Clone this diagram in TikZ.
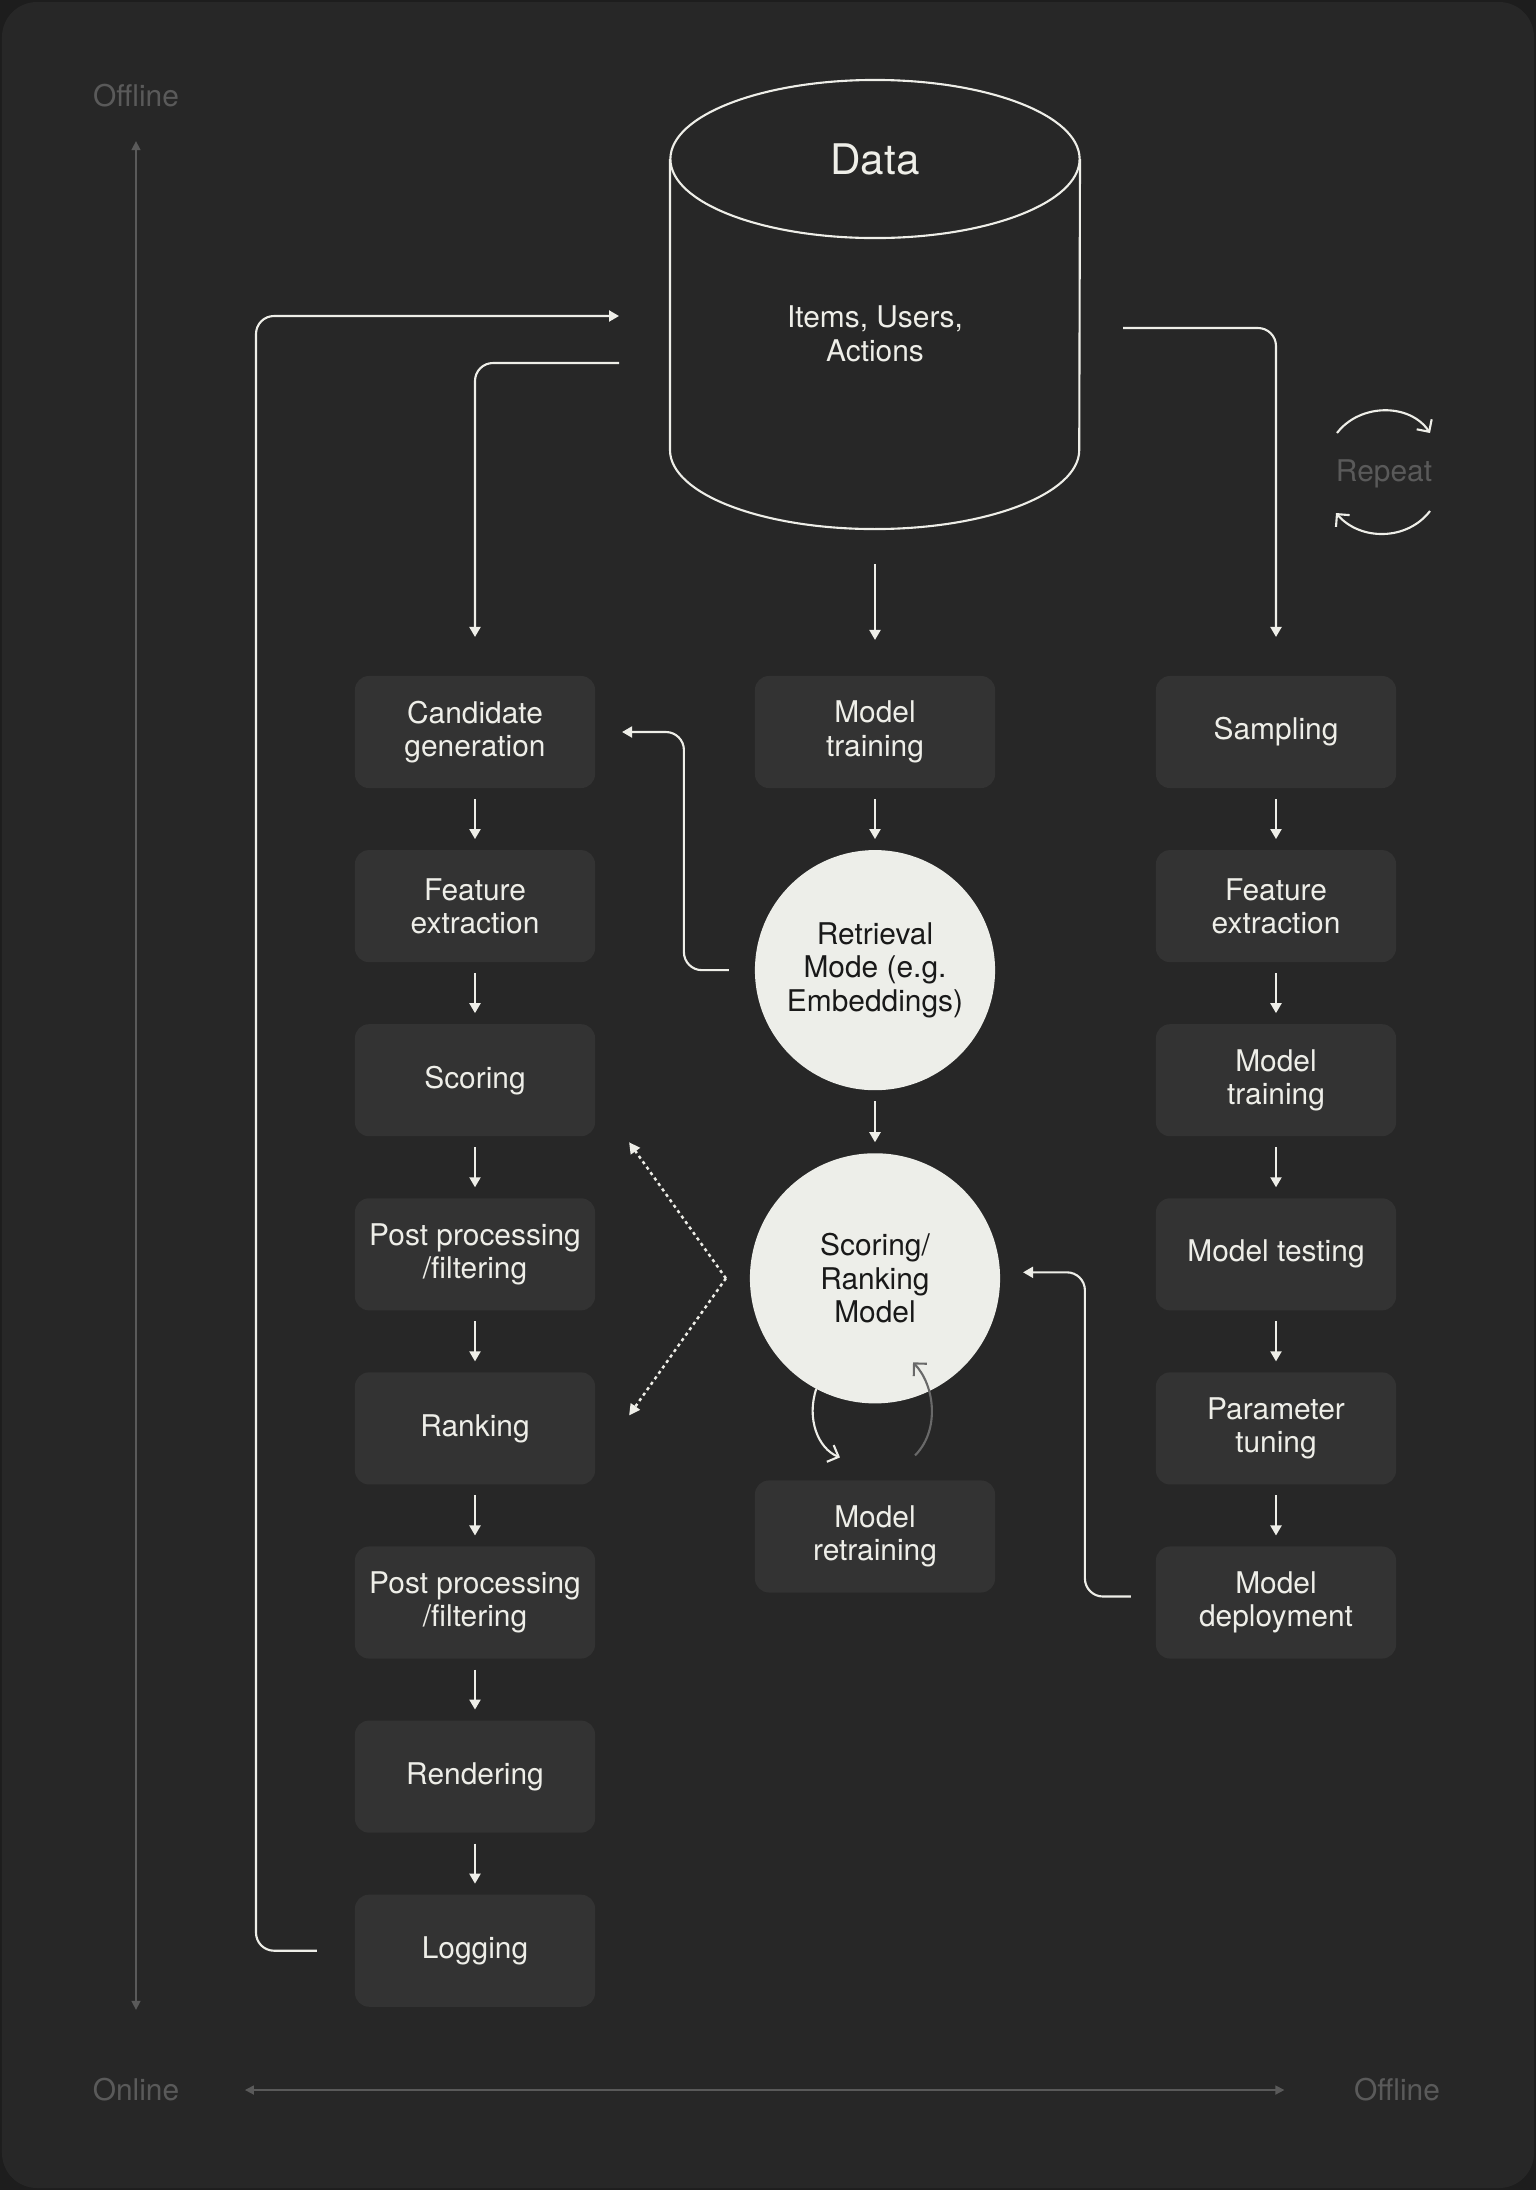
\documentclass[tikz,border=0pt]{standalone}
\usepackage{fontspec}
\setmainfont{TeX Gyre Heros}
\usetikzlibrary{arrows.meta, positioning}
\definecolor{marco}{RGB}{29,29,29}
\definecolor{fondo}{RGB}{39,39,39}
\definecolor{cajagris}{RGB}{51,51,51}
\definecolor{tinta}{RGB}{238,238,232}
\definecolor{claro}{RGB}{237,238,233}
\definecolor{apagado}{RGB}{90,90,90}
\definecolor{medio}{RGB}{105,105,105}
\tikzset{
  caja/.style={rectangle, rounded corners=1.4mm, fill=cajagris, text=tinta,
    minimum width=2.4cm, minimum height=1.12cm, align=center, inner sep=1pt,
    outer sep=0pt, font=\fontsize{8.5}{9.5}\selectfont},
  circulo/.style={circle, fill=claro, text=black!90, align=center, inner sep=0pt,
    outer sep=0pt, font=\fontsize{8.5}{9.5}\selectfont},
  texto/.style={text=tinta, align=center, font=\fontsize{8.5}{9.5}\selectfont},
  titulo/.style={text=tinta, font=\fontsize{12}{14}\selectfont},
  etiq/.style={text=apagado, inner sep=0pt, font=\fontsize{8.5}{10}\selectfont},
  linea/.style={draw=tinta, line width=0.6pt},
  flecha/.style={-{Triangle[length=1mm, width=1.1mm]}, linea},
  corta/.style={flecha, shorten <=1.1mm, shorten >=1.1mm},
  codo/.style={flecha, rounded corners=1.8mm},
  punteada/.style={-{Triangle[length=1.1mm, width=1.1mm]}, linea,
    line width=0.7pt, dash pattern=on 0.9pt off 1pt},
  giro/.style={-{Straight Barb[length=0.9mm, width=1.8mm]}, line width=0.6pt},
  eje/.style={{Triangle[length=0.9mm, width=0.9mm]}-{Triangle[length=0.9mm, width=0.9mm]},
    draw=apagado, line width=0.45pt}
}
\begin{document}
\begin{tikzpicture}[x=0.01cm, y=-0.01cm, node distance=0.62cm]
  \useasboundingbox (0,0) rectangle (1536,2190);
  \fill[marco] (0,0) rectangle (1536,2190);
  \fill[fondo, rounded corners=3.5mm] (2,2) rectangle (1534,2188);

  % ejes online / offline
  \node[etiq] (offarriba) at (136,96) {Offline};
  \node[etiq] (online) at (136,2090) {Online};
  \node[etiq] (offabajo) at (1397,2090) {Offline};
  \draw[eje, shorten <=3.3mm, shorten >=6.8mm] (offarriba) -- (online);
  \draw[eje, shorten <=6.5mm, shorten >=6.9mm] (online) -- (offabajo);

  % datos
  \draw[linea] (875,159) ellipse[x radius=2.045cm, y radius=0.79cm];
  \draw[linea] (670,159) -- (670,450)
    arc[start angle=180, end angle=360, x radius=2.045cm, y radius=0.79cm] -- (1080,159);
  \node[titulo] (datatit) at (875,159) {Data};
  \node[texto] (items) at (875,334) {Items, Users,\\Actions};
  \coordinate (datain) at (619,316);
  \coordinate (dataizq) at (619,363);
  \coordinate (datader) at (1123,328);
  \coordinate (dataabajo) at (875,564);

  % columna online
  \node[caja] (cand) at (475,732) {Candidate\\generation};
  \node[caja, below=of cand] (featL) {Feature\\extraction};
  \node[caja, below=of featL] (scoreL) {Scoring};
  \node[caja, below=of scoreL] (post1) {Post processing\\/filtering};
  \node[caja, below=of post1] (rankL) {Ranking};
  \node[caja, below=of rankL] (post2) {Post processing\\/filtering};
  \node[caja, below=of post2] (render) {Rendering};
  \node[caja, below=of render] (logging) {Logging};

  % columna central
  \node[caja] (mtrain) at (875,732) {Model\\training};
  \node[circulo, minimum size=2.4cm, below=of mtrain] (retr) {Retrieval\\Mode (e.g.\\Embeddings)};
  \node[circulo, minimum size=2.5cm, below=0.63cm of retr] (scoring) {Scoring/\\Ranking\\Model};
  \node[caja, below=0.77cm of scoring] (retrain) {Model\\retraining};

  % columna offline
  \node[caja] (samp) at (1276,732) {Sampling};
  \node[caja, below=of samp] (featR) {Feature\\extraction};
  \node[caja, below=of featR] (mtrainR) {Model\\training};
  \node[caja, below=of mtrainR] (mtest) {Model testing};
  \node[caja, below=of mtest] (tuning) {Parameter\\tuning};
  \node[caja, below=of tuning] (deploy) {Model\\deployment};

  % repetir
  \node[etiq] (repeat) at (1384,474) {Repeat};
  \draw[giro, draw=tinta] (1337,433) .. controls (1360,403) and (1410,403) .. (1430,433);
  \draw[giro, draw=tinta] (1430,511) .. controls (1407,541) and (1360,541) .. (1336,513);

  % conexiones desde datos
  \draw[codo] ([xshift=-3.8mm]logging.west) -| (256,316) -- (datain);
  \draw[codo] (dataizq) -| ([yshift=3.9mm]cand.north);
  \draw[codo] (datader) -| ([yshift=3.9mm]samp.north);
  \draw[flecha] (dataabajo) -- ([yshift=3.6mm]mtrain.north);

  \draw[corta] (cand) -- (featL);
  \draw[corta] (featL) -- (scoreL);
  \draw[corta] (scoreL) -- (post1);
  \draw[corta] (post1) -- (rankL);
  \draw[corta] (rankL) -- (post2);
  \draw[corta] (post2) -- (render);
  \draw[corta] (render) -- (logging);

  \draw[corta] (mtrain) -- (retr);
  \draw[corta] (retr) -- (scoring);

  \draw[corta] (samp) -- (featR);
  \draw[corta] (featR) -- (mtrainR);
  \draw[corta] (mtrainR) -- (mtest);
  \draw[corta] (mtest) -- (tuning);
  \draw[corta] (tuning) -- (deploy);

  \draw[codo] ([xshift=-2.6mm]retr.west) -- ++(-45,0) |- ([xshift=2.7mm]cand.east);
  \draw[codo] ([xshift=-2.5mm, yshift=0.6mm]deploy.west) -- ++(-46,0)
    |- ([xshift=2.3mm, yshift=0.6mm]scoring.east);

  \coordinate (vertice) at ([xshift=-2.4mm]scoring.west);
  \draw[punteada] (vertice) -- ([xshift=3.4mm, yshift=-0.6mm]scoreL.south east);
  \draw[punteada] (vertice) -- ([xshift=3.4mm, yshift=1.3mm]rankL.east);

  \draw[giro, draw=tinta] (scoring.242) .. controls +(-10,30) and +(-22,-9)
    .. ([xshift=-3.5mm, yshift=2.3mm]retrain.north);
  \draw[giro, draw=medio] ([xshift=4mm, yshift=2.5mm]retrain.north)
    .. controls +(25,-25) and +(22,23) .. ([xshift=3.8mm, yshift=-8.4mm]scoring.center);
\end{tikzpicture}
\end{document}
